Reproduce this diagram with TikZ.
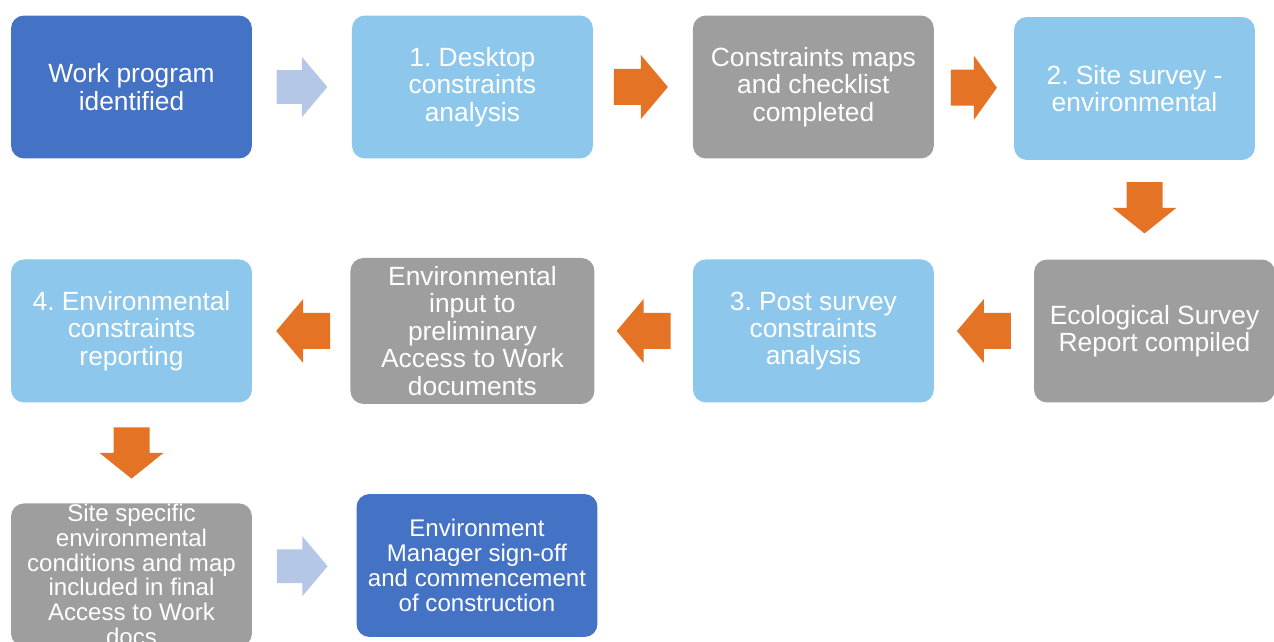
\documentclass[tikz,border=0pt]{standalone}
\usepackage{fontspec}
\setmainfont{Liberation Sans}
\frenchspacing
\usetikzlibrary{positioning, calc}
\definecolor{darkBlue}{HTML}{4472C4}
\definecolor{lightBlue}{HTML}{8DC8EC}
\definecolor{boxGray}{HTML}{9E9E9F}
\definecolor{arrowOrange}{HTML}{E47325}
\definecolor{arrowBlue}{HTML}{B4C7E7}
\tikzset{
    x=0.02cm, y=-0.02cm, % one unit is one pixel of the original picture
    node distance=6.82cm, % horizontal step between the boxes
    styleBox/.style={rounded corners=0.26cm, minimum width=4.82cm, minimum height=2.86cm,
        text=white, align=center, inner xsep=0pt, inner ysep=-4pt,
        font=\fontsize{15}{15.6}\selectfont}, % every step of the process
    pics/blockArrow/.style={code={
        \fill (-27,-18) -- (0,-18) -- (0,-32) -- (27,0) -- (0,32) -- (0,18) -- (-27,18) -- cycle;
    }}, % the fat arrows between the steps
}

\begin{document}
\begin{tikzpicture}[
        styleDark/.style={styleBox, fill=darkBlue},
        styleLight/.style={styleBox, fill=lightBlue},
        styleGray/.style={styleBox, fill=boxGray},
        styleSmall/.style={font=\fontsize{13.7}{14.2}\selectfont},
    ]
    \path[use as bounding box, clip] (0,0) rectangle (1274,642);
    % first row
    \node[styleDark] (work) at (131.5,87) {Work program\\identified};
    \node[styleLight, right of=work] (desk) {1. Desktop\\constraints\\analysis};
    \node[styleGray, right of=desk] (maps) {Constraints maps\\and checklist\\completed};
    \node[styleLight] (site) at (1134.5,88.5) {2. Site survey -\\environmental};
    % second row
    \node[styleGray] (eco) at (1154.5,331) {Ecological Survey\\Report compiled};
    \node[styleLight, below of=maps, node distance=4.88cm] (post) {3. Post survey\\constraints\\analysis};
    \node[styleGray, left of=post, minimum width=4.88cm, minimum height=2.92cm] (input) {Environmental\\input to\\preliminary\\Access to Work\\documents};
    \node[styleLight, left of=input] (report) {4. Environmental\\constraints\\reporting};
    % third row
    \node[styleGray, styleSmall, below of=report, node distance=4.88cm] (cond) {Site specific\\environmental\\conditions and map\\included in final\\Access to Work\\docs};
    \node[styleDark, styleSmall] (sign) at (477,565.5) {Environment\\Manager sign-off\\and commencement\\of construction};
    % arrows
    \pic[fill=arrowBlue, scale=0.94] at ($(work.east)!0.5!(desk.west)$) {blockArrow};
    \pic[fill=arrowOrange] at ($(desk.east)!0.5!(maps.west)+(-2,0)$) {blockArrow};
    \pic[fill=arrowOrange, xscale=0.85] at ($(maps.east)!0.5!(site.west)$) {blockArrow};
    \pic[fill=arrowOrange, rotate=-90, xscale=0.95] at ($(site.south)!0.5!(eco.north)+(0,-2)$) {blockArrow};
    \pic[fill=arrowOrange, rotate=180] at ($(eco.west)!0.5!(post.east)$) {blockArrow};
    \pic[fill=arrowOrange, rotate=180] at ($(post.west)!0.5!(input.east)$) {blockArrow};
    \pic[fill=arrowOrange, rotate=180] at ($(input.west)!0.5!(report.east)+(2,0)$) {blockArrow};
    \pic[fill=arrowOrange, rotate=-90, xscale=0.95] at ($(report.south)!0.5!(cond.north)$) {blockArrow};
    \pic[fill=arrowBlue, scale=0.94] at ($(cond.east)!0.5!(sign.west)+(-2,-4)$) {blockArrow};
\end{tikzpicture}
\end{document}
